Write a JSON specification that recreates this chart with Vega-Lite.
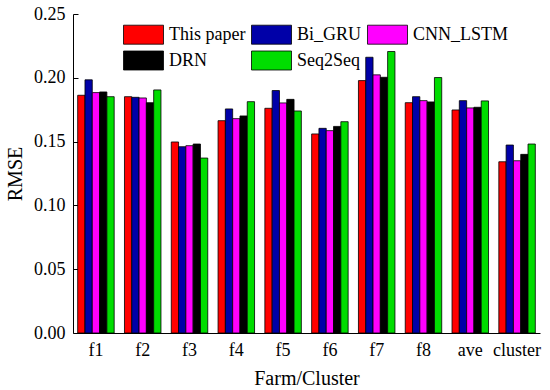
{
  "$schema": "https://vega.github.io/schema/vega-lite/v6.json",
  "width": 467,
  "height": 319,
  "autosize": {"type": "none"},
  "padding": {"left": 73, "top": 14, "right": 10, "bottom": 57},
  "background": "white",
  "config": {
    "view": {"stroke": null},
    "font": "Liberation Serif",
    "axis": {"grid": false, "domainColor": "black", "tickColor": "black", "labelColor": "black", "titleColor": "black", "labelFont": "Liberation Serif", "titleFont": "Liberation Serif", "titleFontWeight": "normal"}
  },
  "data": {
    "values": [
      {"g": "f1", "m": "This paper", "v": 0.1863}, {"g": "f1", "m": "Bi_GRU", "v": 0.1984}, {"g": "f1", "m": "CNN_LSTM", "v": 0.1884}, {"g": "f1", "m": "DRN", "v": 0.1889}, {"g": "f1", "m": "Seq2Seq", "v": 0.1852},
      {"g": "f2", "m": "This paper", "v": 0.1852}, {"g": "f2", "m": "Bi_GRU", "v": 0.1847}, {"g": "f2", "m": "CNN_LSTM", "v": 0.1842}, {"g": "f2", "m": "DRN", "v": 0.1805}, {"g": "f2", "m": "Seq2Seq", "v": 0.1905},
      {"g": "f3", "m": "This paper", "v": 0.1497}, {"g": "f3", "m": "Bi_GRU", "v": 0.146}, {"g": "f3", "m": "CNN_LSTM", "v": 0.1468}, {"g": "f3", "m": "DRN", "v": 0.1481}, {"g": "f3", "m": "Seq2Seq", "v": 0.1371},
      {"g": "f4", "m": "This paper", "v": 0.1664}, {"g": "f4", "m": "Bi_GRU", "v": 0.1756}, {"g": "f4", "m": "CNN_LSTM", "v": 0.168}, {"g": "f4", "m": "DRN", "v": 0.1701}, {"g": "f4", "m": "Seq2Seq", "v": 0.1813},
      {"g": "f5", "m": "This paper", "v": 0.1761}, {"g": "f5", "m": "Bi_GRU", "v": 0.19}, {"g": "f5", "m": "CNN_LSTM", "v": 0.1803}, {"g": "f5", "m": "DRN", "v": 0.1831}, {"g": "f5", "m": "Seq2Seq", "v": 0.174},
      {"g": "f6", "m": "This paper", "v": 0.156}, {"g": "f6", "m": "Bi_GRU", "v": 0.1604}, {"g": "f6", "m": "CNN_LSTM", "v": 0.1586}, {"g": "f6", "m": "DRN", "v": 0.1619}, {"g": "f6", "m": "Seq2Seq", "v": 0.1656},
      {"g": "f7", "m": "This paper", "v": 0.1978}, {"g": "f7", "m": "Bi_GRU", "v": 0.2161}, {"g": "f7", "m": "CNN_LSTM", "v": 0.2023}, {"g": "f7", "m": "DRN", "v": 0.2004}, {"g": "f7", "m": "Seq2Seq", "v": 0.2206},
      {"g": "f8", "m": "This paper", "v": 0.1805}, {"g": "f8", "m": "Bi_GRU", "v": 0.1852}, {"g": "f8", "m": "CNN_LSTM", "v": 0.1821}, {"g": "f8", "m": "DRN", "v": 0.1811}, {"g": "f8", "m": "Seq2Seq", "v": 0.2002},
      {"g": "ave", "m": "This paper", "v": 0.1748}, {"g": "ave", "m": "Bi_GRU", "v": 0.1821}, {"g": "ave", "m": "CNN_LSTM", "v": 0.1764}, {"g": "ave", "m": "DRN", "v": 0.1769}, {"g": "ave", "m": "Seq2Seq", "v": 0.1819},
      {"g": "cluster", "m": "This paper", "v": 0.1342}, {"g": "cluster", "m": "Bi_GRU", "v": 0.1473}, {"g": "cluster", "m": "CNN_LSTM", "v": 0.135}, {"g": "cluster", "m": "DRN", "v": 0.14}, {"g": "cluster", "m": "Seq2Seq", "v": 0.1481}
    ]
  },
  "mark": {"type": "bar", "stroke": "black", "strokeWidth": 0.8},
  "encoding": {
    "x": {
      "field": "g", "type": "nominal", "sort": null,
      "scale": {"paddingInner": 0.22, "paddingOuter": 0.1},
      "axis": {"title": "Farm/Cluster", "labelAngle": 0, "labelFontSize": 18, "titleFontSize": 20, "ticks": false, "labelPadding": 8, "titlePadding": 9}
    },
    "xOffset": {"field": "m", "type": "nominal", "sort": ["This paper", "Bi_GRU", "CNN_LSTM", "DRN", "Seq2Seq"]},
    "y": {
      "field": "v", "type": "quantitative",
      "scale": {"domain": [0, 0.25], "nice": false},
      "axis": {"title": "RMSE", "values": [0, 0.05, 0.1, 0.15, 0.2, 0.25], "format": ".2f", "labelFontSize": 18, "titleFontSize": 20, "tickSize": -5, "labelPadding": 13, "titlePadding": 8}
    },
    "color": {
      "field": "m", "type": "nominal", "sort": ["This paper", "Bi_GRU", "CNN_LSTM", "DRN", "Seq2Seq"],
      "scale": {"domain": ["This paper", "Bi_GRU", "CNN_LSTM", "DRN", "Seq2Seq"], "range": ["#FF0000", "#0000A8", "#FF00FF", "#000000", "#00DD00"]},
      "legend": {
        "title": null, "orient": "none", "direction": "horizontal", "legendX": 50, "legendY": 10, "columns": 3, "padding": 0,
        "symbolType": "M-1,-0.95H3V0.95H-1Z", "symbolSize": 400, "symbolStrokeColor": "black", "symbolStrokeWidth": 0.8,
        "labelFont": "Liberation Serif", "labelFontSize": 18, "labelColor": "black", "labelOffset": 25, "columnPadding": 3, "rowPadding": 3
      }
    }
  }
}
